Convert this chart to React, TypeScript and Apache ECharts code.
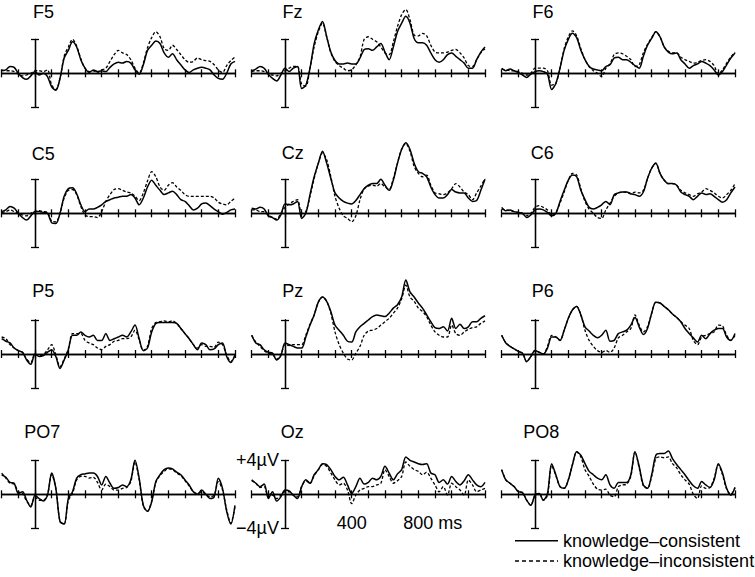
import React, { useEffect, useRef } from "react";
import * as echarts from "echarts";

// time axis (ms), one sample every 25 ms
const times = [
  -200, -175, -150, -125, -100, -75, -50, -25, 0, 25, 50, 75, 100, 125, 150, 175, 200, 225, 250, 275,
  300, 325, 350, 375, 400, 425, 450, 475, 500, 525, 550, 575, 600, 625, 650, 675, 700, 725, 750, 775,
  800, 825, 850, 875, 900, 925, 950, 975, 1000, 1025, 1050, 1075, 1100, 1125, 1150, 1175, 1200,
];

const seriesNames = ["knowledge–consistent", "knowledge–inconsistent"];
const electrodes = ["F5", "Fz", "F6", "C5", "Cz", "C6", "P5", "Pz", "P6", "PO7", "Oz", "PO8"];

// amplitudes in µV
const f5Cons = [0.3,0.4,0.8,0.7,0,-0.5,-0.7,-0.3,0.2,-0.2,0,-0.4,-1.6,-2.0,-0.6,1.8,2.7,3.7,3.1,1.6,0.6,0.1,0.4,0.2,0.3,0.2,0.7,1.1,1.3,1.2,1.4,1.2,0.4,-0.1,1.0,2.7,3.3,3.8,3.5,2.4,1.9,2.3,1.6,1.0,0.4,0.1,0.4,0.6,0.7,0.6,0.4,-0.2,-0.6,-0.7,0,1.1,1.4];
const f5Incons = [0.4,0.3,0.3,0.2,-0.1,-0.3,-0.2,0,0.3,0.3,0.2,0.4,-1.4,-1.9,-0.6,2.0,3.1,4.0,3.2,1.7,0.6,0.2,0.3,0.1,0.4,0.6,1.4,2.2,2.7,2.4,2.2,1.6,0.6,0.0,1.2,3.0,4.2,4.9,4.3,2.9,2.7,3.3,2.8,2.2,1.6,1.3,1.4,1.8,1.6,1.5,1.4,1.0,0.4,0.1,0.9,1.5,1.9];
const fzCons = [0.3,0.5,0.8,0.6,-0.1,-0.6,-0.9,-0.2,0.6,0.2,0.6,0.8,-1.8,-1.4,0.6,3.5,5.1,6.1,4.3,2.5,1.5,1.1,1.1,1.2,1.1,1.1,1.8,2.8,2.9,2.7,3.1,3.5,2.5,1.6,3.1,4.9,5.9,6.7,5.9,4.1,3.6,3.6,3.3,2.4,1.6,1.3,1.6,2.2,2.4,2.0,1.6,1.2,0.6,0.6,1.6,2.5,3.1];
const fzIncons = [0.2,0.3,0.3,0.2,-0.1,-0.2,-0.3,0,0.3,0.6,0.8,0.8,-1.3,-1.5,0.6,3.1,4.9,5.9,4.3,2.4,1.4,0.9,0.6,0.3,0.4,1.0,1.9,4.0,4.3,4.0,3.7,3.1,2.4,2.2,3.7,5.5,6.9,7.5,6.3,4.5,4.4,4.7,4.4,3.3,2.5,2.4,2.4,2.5,2.7,2.8,2.4,1.8,0.9,0.8,1.6,2.4,2.9];
const f6Cons = [0.6,0.3,0.5,0.3,0.1,-0.2,-0.5,-0.1,0.2,0.3,0.2,-0.1,-1.9,-1.2,0.6,2.7,4.0,4.7,4.2,2.7,1.6,0.8,0.5,0.4,0.3,0.8,1.0,1.8,1.9,1.6,1.6,1.3,0.9,0.6,2.0,3.3,4.1,4.9,4.3,3.1,2.5,2.3,2.4,1.6,1.1,0.6,0.9,1.1,1.4,1.2,0.9,0.4,-0.2,0.2,1.0,1.8,2.4];
const f6Incons = [0.5,0.4,0.3,0.3,0.2,0,-0.2,0,0.6,0.6,0.6,0.3,-1.4,-1.2,0.6,2.9,4.3,5.0,4.4,2.9,1.6,0.8,0.3,0,-0.4,0.6,1.1,2.2,2.4,2.3,2.0,1.6,0.8,1.0,2.4,3.4,4.2,4.9,4.3,3.1,2.6,2.4,2.4,1.9,1.6,1.4,1.2,1.3,1.5,1.6,1.4,0.9,-0.1,0.4,1.2,1.9,2.5];
const c5Cons = [0.2,0.4,0.8,0.6,0,-0.5,-0.8,-0.3,0.2,0.2,0.1,0,-1.1,-1.2,0,2.0,2.9,3.0,2.3,1.0,0.2,0.5,0.5,0.7,1.0,1.4,1.6,1.8,1.9,2.0,2.0,2.2,1.8,1.0,1.8,3.1,3.9,3.3,2.7,2.2,2.4,2.6,2.2,1.6,1.4,0.9,0.4,0.6,1.1,1.2,0.9,0.5,0.2,-0.1,0.1,0.4,0.5];
const c5Incons = [0.1,0.2,0.4,0.2,0,-0.2,-0.3,0,0.2,0.3,0.2,0.1,-0.9,-1.0,0,1.8,2.7,2.8,2.2,0.8,-0.2,-0.4,-0.4,-0.5,0.2,1.4,2.2,2.8,2.9,2.7,2.5,2.4,2.0,1.5,2.4,3.8,4.9,4.3,3.1,2.7,3.3,3.6,3.1,2.7,2.2,2.0,2.0,2.0,2.0,2.0,2.0,1.8,1.3,1.1,1.0,1.4,1.8];
const czCons = [0.6,0.5,0.7,0.5,-0.3,-0.5,-0.8,-0.2,1.1,1.0,1.1,1.4,-0.6,0.0,2.2,4.3,5.9,7.3,5.9,4.1,2.4,1.8,1.4,1.2,1.1,1.5,2.2,2.9,3.3,3.5,3.5,4.0,3.3,2.7,3.9,5.9,7.5,8.3,7.5,5.9,4.9,4.7,4.3,3.1,2.2,1.8,1.8,2.2,2.8,2.5,2.4,2.4,1.8,1.4,1.5,2.7,4.0];
const czIncons = [0.4,0.4,0.2,0.2,-0.2,-0.5,-0.7,0,0.7,1.1,1.4,1.6,0,0.2,2.0,4.1,5.9,7.1,6.3,4.3,2.0,0.6,-0.3,-0.6,-1.0,-0.3,1.6,2.9,3.2,3.3,3.2,3.5,3.1,2.8,4.1,5.9,7.6,8.2,7.3,5.5,4.7,4.3,4.5,3.3,2.4,2.3,2.2,2.4,2.9,3.5,3.1,2.5,2.2,1.6,2.4,3.2,4.1];
const c6Cons = [0.7,0.3,0.4,0.2,0.1,0,-0.5,-0.2,0.4,0.5,0.4,0.1,-0.3,0,1.4,2.7,3.9,4.5,4.3,2.7,1.6,0.7,0.5,0.7,1.0,1.4,1.0,2.2,2.4,2.5,2.5,2.3,2.2,2.0,2.5,4.1,5.3,5.9,4.7,3.9,3.5,3.5,3.3,2.5,2.2,2.0,1.6,2.0,2.4,2.2,2.3,2.0,1.6,1.3,1.6,2.4,3.1];
const c6Incons = [0.5,0.4,0.3,0.2,0.1,0,-0.3,0,0.7,0.9,0.7,0.4,-0.2,0.1,1.2,2.5,3.9,4.7,4.5,2.9,1.4,0.5,0,-0.5,-0.6,0.4,1.2,2.0,2.4,2.5,2.5,2.3,2.5,2.4,2.7,4.1,5.3,5.9,4.7,3.9,3.5,3.5,3.3,2.7,2.4,2.2,2.0,2.3,2.5,2.9,2.7,2.4,2.0,1.8,2.2,2.7,3.5];
const p5Cons = [1.8,1.5,1.3,0.7,0.4,0.2,-0.7,-1.2,0,-0.3,-0.2,0.2,0.5,-0.3,-1.7,-0.7,0.5,2.2,2.2,2.6,2.2,2.0,2.2,1.6,1.6,2.4,1.6,1.8,2.0,2.2,2.0,2.6,3.4,1.8,0.4,0.7,2.6,3.6,3.7,3.7,3.7,3.7,3.6,3.0,2.4,1.8,1.1,0.5,1.3,1.1,0.5,0.6,1.1,1.3,-0.3,-1.0,-0.1];
const p5Incons = [2.0,1.8,1.1,0.7,0.4,0.2,-0.6,-1.0,0,-0.2,-0.1,0.5,1.1,-0.1,-1.5,-0.6,0.6,2.4,2.4,2.4,1.6,1.3,1.1,0.7,0.5,0.9,1.1,1.5,1.6,1.8,1.8,2.0,2.8,1.7,0.4,0.9,3.0,3.7,3.8,3.9,3.8,3.9,3.6,3.0,2.4,1.8,1.1,0.7,1.1,0.9,0.9,0.8,1.4,1.1,-0.1,-0.9,-0.2];
const pzCons = [2.2,1.3,1.1,0.5,0.2,0.1,-0.7,-0.2,1.3,1.1,0.9,0.7,0.7,2.0,3.4,4.6,6.1,6.7,6.2,5.0,3.4,2.8,2.2,1.5,1.4,2.6,3.2,3.6,4.0,4.4,4.6,4.5,4.4,4.8,5.4,5.8,6.7,8.7,7.3,6.7,6.0,5.4,4.6,3.8,3.1,3.0,3.2,2.7,4.2,3.0,3.5,3.0,3.2,3.8,3.8,4.2,4.5];
const pzIncons = [2.2,1.4,0.9,0.4,0.1,0,-0.6,-0.1,1.1,1.0,1.1,1.1,1.1,2.2,3.5,4.6,6.1,6.7,6.2,4.8,2.6,1.1,0.1,-0.6,-0.7,0.1,0.9,2.2,2.7,2.8,3.0,3.4,3.8,4.2,4.8,5.4,6.5,8.1,6.7,6.2,5.4,5.0,4.4,3.4,2.6,2.2,2.0,2.0,3.4,2.4,2.2,2.6,2.9,3.1,3.2,3.6,3.9];
const p6Cons = [2.2,1.3,0.9,0.6,0.3,0.1,-0.9,-0.3,0.4,0.2,0,0.7,2.0,2.0,1.6,2.8,4.2,5.2,5.6,4.6,3.2,2.7,2.2,1.9,2.2,2.8,1.5,1.6,2.4,2.6,2.8,3.4,4.3,3.2,2.3,3.0,4.8,6.1,6.0,5.6,5.2,4.7,4.3,3.8,3.0,2.4,1.9,1.4,2.2,1.8,2.4,2.8,3.0,3.0,2.0,1.6,2.4];
const p6Incons = [2.2,1.3,0.9,0.6,0.3,0.1,-0.9,-0.3,0.4,0.2,0,0.9,2.2,2.0,1.6,2.8,4.2,5.2,5.6,4.6,2.8,1.6,0.9,0.4,0.2,0.4,0.2,0.7,1.9,2.2,2.6,3.0,4.6,3.4,2.6,3.2,4.8,6.1,6.0,5.6,5.2,4.7,4.3,3.8,3.4,3.0,1.6,1.1,2.0,2.2,2.4,2.6,3.4,3.3,2.2,1.6,2.2];
const po7Cons = [2.3,2.0,1.4,1.3,0.1,0.3,-0.7,-1.5,-0.1,-0.5,-0.8,-0.1,2.5,0.7,-3.2,-3.5,-0.5,0.3,1.9,2.3,2.4,2.5,2.5,2.1,1.1,2.1,1.3,0.7,0.8,1.1,0.9,1.7,4.0,1.9,-1.3,-2.0,-0.9,1.5,2.3,2.9,3.1,3.0,2.6,2.3,1.7,1.1,0.3,0,0.5,0,-0.5,-0.3,1.9,0.7,-2.0,-3.5,-1.3];
const po7Incons = [2.5,1.9,1.3,1.2,0.3,0.1,-0.8,-1.3,-0.3,-0.7,-0.7,0,2.3,0.7,-3.2,-3.5,-0.7,0.1,1.7,2.1,2.1,1.9,2.0,1.4,0.5,1.2,0.9,0.5,0.5,0.7,0.8,1.5,3.8,1.7,-1.4,-2.0,-0.8,1.4,2.2,2.7,3.0,2.9,2.5,2.2,1.6,1.0,0.3,0.1,0.3,0,-0.3,-0.1,1.5,0.5,-1.8,-3.4,-1.4];
const ozCons = [1.7,1.3,0.9,1.2,-0.5,0.3,-0.8,-0.3,0.5,0.4,-0.1,-0.5,0.9,1.7,1.3,2.3,2.9,3.6,3.5,2.9,2.1,1.7,2.0,1.1,0.1,0.9,1.9,1.2,1.4,1.9,1.7,2.1,3.3,2.5,1.7,2.4,2.9,4.4,4.0,3.8,3.6,3.5,3.6,2.5,2.3,1.4,1.7,1.2,2.1,1.5,1.1,1.6,2.3,1.7,1.1,0.9,1.4];
const ozIncons = [1.6,1.3,0.8,0.9,-0.3,-0.1,-0.5,-0.1,0.3,0.3,-0.1,-0.3,0.9,1.6,1.3,2.2,2.9,3.5,3.3,2.5,1.7,1.1,1.3,0.5,-1.1,-0.1,0.5,0.7,0.9,0.9,1.1,1.3,2.9,2.1,1.3,1.6,2.1,3.8,3.3,2.9,2.7,2.3,2.6,1.9,1.1,0.3,0.9,-0.1,1.3,0.9,0.5,-0.1,1.7,1.1,0.3,0.5,0.7];
const po8Cons = [2.9,1.7,1.3,0.9,0.3,0.2,-0.7,-1.3,-0.1,0.1,-0.7,0.1,3.6,2.3,0.9,0.7,1.7,3.5,5.0,4.6,3.6,2.7,2.3,1.9,1.7,2.3,1.1,0.7,1.4,1.4,1.4,2.3,5.0,3.3,1.1,0.7,2.3,4.6,4.8,4.8,5.1,4.2,3.5,2.9,2.3,1.6,1.0,0.7,1.5,1.1,0.8,1.7,3.6,2.5,0.7,-0.1,0.8];
const po8Incons = [2.9,1.7,1.3,0.9,0.3,0.2,-0.7,-1.3,-0.1,0.1,-0.7,-0.1,3.4,2.2,0.9,0.7,1.7,3.5,5.0,4.4,2.9,2.1,1.2,0.6,0.5,0.6,-0.1,-0.3,0.9,1.1,1.2,2.1,5.0,3.1,1.0,0.7,2.1,4.2,4.4,4.3,4.4,3.6,3.1,2.3,1.7,1.2,0,-0.5,1.0,0.7,0.8,1.9,3.5,2.3,0.6,0,0.8];

const consistentData = [f5Cons, fzCons, f6Cons, c5Cons, czCons, c6Cons, p5Cons, pzCons, p6Cons, po7Cons, ozCons, po8Cons];
const inconsistentData = [f5Incons, fzIncons, f6Incons, c5Incons, czIncons, c6Incons, p5Incons, pzIncons, p6Incons, po7Incons, ozIncons, po8Incons];

// axis ranges / labels
const T_MIN = -200;
const T_MAX = 1200;
const T_STEP = 100;
const V_MIN = -4;
const V_MAX = 4;
const scaleTopLabel = "+4µV";
const scaleBottomLabel = "−4µV";
const timeLabel1 = "400";
const timeLabel2 = "800 ms";

// layout (pixels)
const FONT = '"Liberation Sans", Arial, Helvetica, sans-serif';
const COL_X = [35, 285, 535]; // x of the 0 ms line
const ROW_Y = [73.3, 213.3, 354, 494.3]; // y of the 0 µV line
const PLOT_W = 233.33;
const HALF_H = 34;
const TITLE_POS: [number, number][] = [
  [33, 11.7], [282.5, 11.7], [532.5, 11.7],
  [31.7, 153.5], [281.7, 152.5], [530.7, 152.5],
  [32.3, 291.3], [282.3, 291], [531.7, 291.3],
  [24.3, 432], [280.7, 432], [523.3, 432],
];
const TEXT_SIZE = 18;
const LEGEND_X = [515, 558, 563];
const LEGEND_Y = [540.7, 561];

export default function App() {
  const ref = useRef<HTMLDivElement>(null);

  useEffect(() => {
    if (!ref.current) return;
    const chart = echarts.init(ref.current, null, { renderer: "svg" });
    const zeroPx = (PLOT_W * (0 - T_MIN)) / (T_MAX - T_MIN);
    const lineStyle = { color: "#000", width: 1.3 };
    const msWidth = TEXT_SIZE * (0.278 + 0.833 + 0.5);
    const font = `${TEXT_SIZE}px ${FONT}`;

    const grid: any[] = [];
    const xAxis: any[] = [];
    const yAxis: any[] = [];
    const series: any[] = [];
    const title: any[] = [];

    electrodes.forEach((name, i) => {
      const col = i % 3;
      const row = Math.floor(i / 3);
      const isScale = name === "Oz";
      grid.push({
        left: COL_X[col] - zeroPx,
        top: ROW_Y[row] - HALF_H,
        width: PLOT_W,
        height: HALF_H * 2,
        containLabel: false,
      });
      ["bottom", "top"].forEach((pos, j) => {
        xAxis.push({
          type: "value",
          gridIndex: i,
          position: pos,
          min: T_MIN,
          max: T_MAX,
          interval: T_STEP,
          axisLine: { show: true, onZero: true, lineStyle },
          axisTick: { show: true, inside: false, length: 4, lineStyle },
          splitLine: { show: false },
          axisLabel:
            isScale && j === 0
              ? {
                  show: true,
                  margin: -14,
                  fontSize: TEXT_SIZE,
                  fontFamily: FONT,
                  color: "#000",
                  formatter: (v: number) =>
                    v === 400 ? timeLabel1 : v === 800 ? `{ms|${timeLabel2}}` : "",
                  rich: {
                    ms: {
                      fontSize: TEXT_SIZE,
                      fontFamily: FONT,
                      color: "#000",
                      padding: [0, 0, 0, msWidth],
                    },
                  },
                }
              : { show: false },
        });
      });
      ["left", "right"].forEach((pos, j) => {
        yAxis.push({
          type: "value",
          gridIndex: i,
          position: pos,
          min: V_MIN,
          max: V_MAX,
          interval: V_MAX - V_MIN,
          axisLine: { show: true, onZero: true, lineStyle },
          axisTick: { show: true, inside: false, length: 4, lineStyle },
          splitLine: { show: false },
          axisLabel:
            isScale && j === 0
              ? {
                  show: true,
                  margin: -(zeroPx - 6),
                  fontSize: TEXT_SIZE,
                  fontFamily: FONT,
                  color: "#000",
                  formatter: (v: number) =>
                    v === V_MAX ? scaleTopLabel : v === V_MIN ? scaleBottomLabel : "",
                }
              : { show: false },
        });
      });
      series.push({
        type: "line",
        name: seriesNames[0],
        xAxisIndex: 2 * i,
        yAxisIndex: 2 * i,
        data: times.map((t, k) => [t, consistentData[i][k]]),
        symbol: "none",
        showSymbol: false,
        smooth: 0.3,
        clip: false,
        lineStyle: { color: "#000", width: 1.5, type: "solid" },
        z: 3,
      });
      series.push({
        type: "line",
        name: seriesNames[1],
        xAxisIndex: 2 * i,
        yAxisIndex: 2 * i,
        data: times.map((t, k) => [t, inconsistentData[i][k]]),
        symbol: "none",
        showSymbol: false,
        smooth: 0.3,
        clip: false,
        lineStyle: { color: "#000", width: 1.3, type: [3, 2] },
        z: 2,
      });
      title.push({
        text: name,
        left: TITLE_POS[i][0],
        top: TITLE_POS[i][1] - TEXT_SIZE / 2,
        padding: 0,
        textStyle: {
          fontSize: TEXT_SIZE,
          fontWeight: "normal",
          fontFamily: FONT,
          color: "#000",
        },
      });
    });

    const graphic: any[] = [];
    seriesNames.forEach((label, j) => {
      graphic.push({
        type: "line",
        shape: { x1: LEGEND_X[0], y1: LEGEND_Y[j], x2: LEGEND_X[1], y2: LEGEND_Y[j] },
        style: { stroke: "#000", lineWidth: 1.4, lineDash: j === 0 ? null : [4, 3] },
      });
      graphic.push({
        type: "text",
        x: LEGEND_X[2],
        y: LEGEND_Y[j],
        style: {
          text: label,
          font,
          fill: "#000",
          textAlign: "left",
          textVerticalAlign: "middle",
        },
      });
    });

    chart.setOption({
      animation: false,
      backgroundColor: "#fff",
      title,
      grid,
      xAxis,
      yAxis,
      series,
      graphic,
    });

    return () => chart.dispose();
  }, []);

  return (
    <div
      ref={ref}
      style={{ position: "absolute", left: 0, top: 0, width: 755, height: 577 }}
    />
  );
}
